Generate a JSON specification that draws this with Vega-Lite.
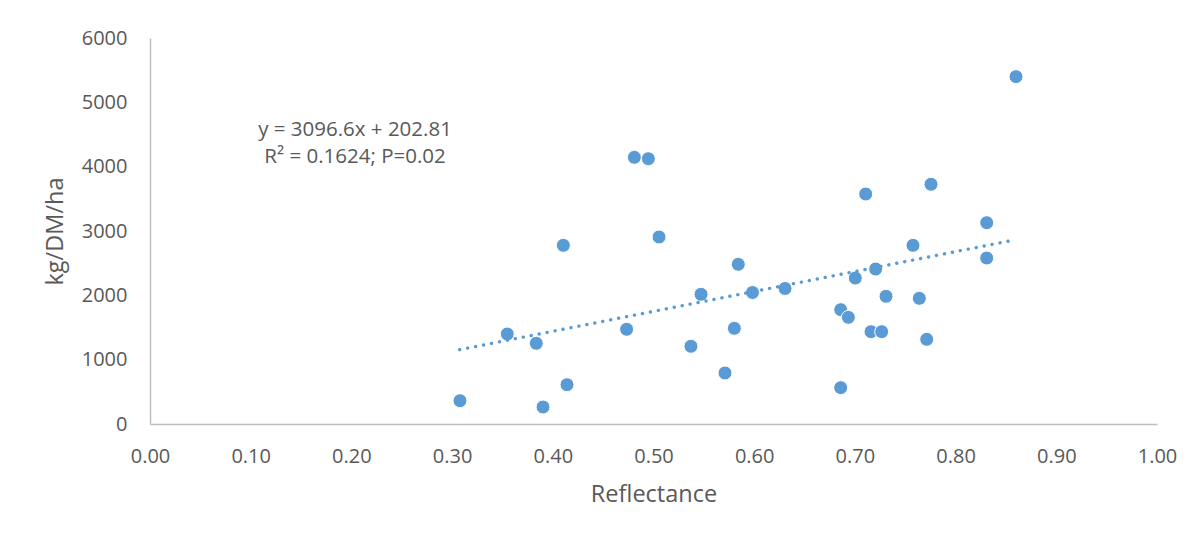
{
  "$schema": "https://vega.github.io/schema/vega-lite/v6.json",
  "width": 1007,
  "height": 386,
  "autosize": {"type": "none"},
  "padding": {"left": 150, "top": 38, "right": 46, "bottom": 111},
  "background": "white",
  "config": {"view": {"stroke": null}, "font": "Open Sans"},
  "datasets": {
    "points": [
      {"reflectance": 0.3078, "yield": 362},
      {"reflectance": 0.3548, "yield": 1399},
      {"reflectance": 0.3836, "yield": 1254},
      {"reflectance": 0.3903, "yield": 264},
      {"reflectance": 0.4105, "yield": 2777},
      {"reflectance": 0.4141, "yield": 611},
      {"reflectance": 0.4733, "yield": 1472},
      {"reflectance": 0.4810, "yield": 4145},
      {"reflectance": 0.4949, "yield": 4124},
      {"reflectance": 0.5055, "yield": 2907},
      {"reflectance": 0.5372, "yield": 1208},
      {"reflectance": 0.5472, "yield": 2016},
      {"reflectance": 0.5710, "yield": 793},
      {"reflectance": 0.5803, "yield": 1487},
      {"reflectance": 0.5842, "yield": 2482},
      {"reflectance": 0.5983, "yield": 2044},
      {"reflectance": 0.6306, "yield": 2106},
      {"reflectance": 0.6859, "yield": 1777},
      {"reflectance": 0.6859, "yield": 565},
      {"reflectance": 0.6935, "yield": 1658},
      {"reflectance": 0.7004, "yield": 2269},
      {"reflectance": 0.7107, "yield": 3575},
      {"reflectance": 0.7160, "yield": 1435},
      {"reflectance": 0.7206, "yield": 2409},
      {"reflectance": 0.7266, "yield": 1435},
      {"reflectance": 0.7309, "yield": 1985},
      {"reflectance": 0.7577, "yield": 2777},
      {"reflectance": 0.7640, "yield": 1953},
      {"reflectance": 0.7713, "yield": 1316},
      {"reflectance": 0.7756, "yield": 3726},
      {"reflectance": 0.8309, "yield": 3129},
      {"reflectance": 0.8309, "yield": 2580},
      {"reflectance": 0.8600, "yield": 5399}
    ],
    "trend": [
      {"reflectance": 0.3075, "yield": 1155},
      {"reflectance": 0.8570, "yield": 2856}
    ],
    "labels": [
      {"reflectance": 0.2036, "yield": 4570, "label": "y = 3096.6x + 202.81"},
      {"reflectance": 0.2036, "yield": 4150, "label": "R² = 0.1624; P=0.02"}
    ]
  },
  "layer": [
    {
      "data": {"name": "points"},
      "mark": {"type": "circle", "size": 195, "color": "#5B9BD5", "opacity": 1, "stroke": "white", "strokeWidth": 1},
      "encoding": {
        "x": {
          "field": "reflectance", "type": "quantitative",
          "scale": {"domain": [0, 1], "nice": false, "zero": false},
          "axis": {
            "title": "Reflectance",
            "values": [0, 0.1, 0.2, 0.3, 0.4, 0.5, 0.6, 0.7, 0.8, 0.9, 1.0],
            "format": ".2f",
            "grid": false, "ticks": false, "tickSize": 0,
            "domainColor": "#BFBFBF", "domainWidth": 1.5,
            "labelFont": "Open Sans", "labelFontSize": 20, "labelColor": "#595959",
            "labelPadding": 22, "labelFlush": false, "labelOverlap": false,
            "titleFont": "Open Sans", "titleFontSize": 23.5, "titleFontWeight": "normal",
            "titleColor": "#595959", "titleY": 70, "titleBaseline": "middle"
          }
        },
        "y": {
          "field": "yield", "type": "quantitative",
          "scale": {"domain": [0, 6000], "nice": false},
          "axis": {
            "title": "kg/DM/ha",
            "values": [0, 1000, 2000, 3000, 4000, 5000, 6000],
            "format": "d",
            "grid": false, "ticks": false, "tickSize": 0,
            "domainColor": "#BFBFBF", "domainWidth": 1.5,
            "labelFont": "Open Sans", "labelFontSize": 20, "labelColor": "#595959",
            "labelPadding": 23, "labelFlush": false, "labelOverlap": false,
            "titleFont": "Open Sans", "titleFontSize": 23.5, "titleFontWeight": "normal",
            "titleColor": "#595959", "titleX": -95, "titleY": 193,
            "titleAngle": -90, "titleBaseline": "middle", "titleAlign": "center"
          }
        }
      }
    },
    {
      "data": {"name": "trend"},
      "mark": {"type": "line", "color": "#5B9BD5", "strokeWidth": 3.4, "strokeDash": [0.1, 8], "strokeCap": "round"},
      "encoding": {
        "x": {"field": "reflectance", "type": "quantitative"},
        "y": {"field": "yield", "type": "quantitative"}
      }
    },
    {
      "data": {"name": "labels"},
      "mark": {"type": "text", "font": "Open Sans", "fontSize": 20.5, "color": "#595959", "align": "center", "baseline": "middle"},
      "encoding": {
        "x": {"field": "reflectance", "type": "quantitative"},
        "y": {"field": "yield", "type": "quantitative"},
        "text": {"field": "label"}
      }
    }
  ]
}
